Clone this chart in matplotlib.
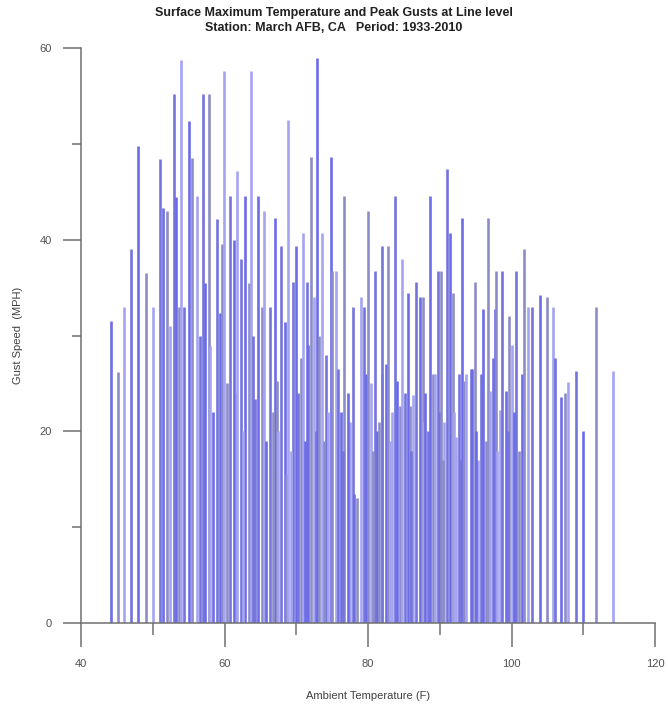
import matplotlib
matplotlib.use("Agg")
import matplotlib.pyplot as plt
from matplotlib.ticker import MultipleLocator

plt.rcParams['font.family'] = ['Liberation Sans', 'DejaVu Sans']

# Ambient temperature (F) of each gust observation
temps = [
    44.2, 45.1, 46.0, 47.0, 48.0, 49.0, 50.0, 51.0, 51.4, 52.0, 52.4, 53.0, 53.3, 53.6, 54.0, 54.3,
    55.0, 55.5, 56.1, 57.0, 57.3, 57.8, 58.0, 58.9, 59.4, 59.6, 59.9, 60.8, 61.3, 61.6, 61.8, 62.3,
    62.8, 63.4, 63.7, 64.2, 64.6, 65.2, 65.5,
    66.3, 67.0, 67.3, 67.5, 67.9, 68.4, 68.6, 68.9, 69.5, 69.9, 70.6, 70.9, 71.5, 71.7, 72.0, 72.5,
    72.7, 72.9, 73.2, 73.6, 74.1, 74.8, 75.0, 75.5, 75.8, 76.2, 76.7, 77.5, 77.9, 78.1,
    78.5, 79.0, 79.5, 79.7, 80.0, 80.4, 81.0, 81.2, 81.6, 81.9, 82.0, 82.5, 82.8, 83.3, 83.8, 84.0,
    84.5, 84.7, 85.2, 85.6, 85.9, 86.3, 86.7, 87.2, 87.6, 87.8, 88.3, 88.7, 89.0, 89.4, 89.7, 90.0,
    90.2, 90.6, 91.0, 91.4, 91.8, 92.3, 92.7, 93.1, 93.4, 93.7, 94.3, 94.5, 94.9, 95.3, 95.7, 96.0,
    96.7, 97.0, 97.4, 97.7, 97.9, 98.4, 98.7, 99.2, 99.7, 100.0, 100.6, 101.5, 101.7,
    102.3, 102.9, 104.0, 105.0, 105.8, 106.0, 106.9, 107.5, 107.9, 109.0, 109.9, 111.8, 114.1,
    56.6, 58.4, 60.3, 62.6, 64.0, 65.8, 66.7, 69.2, 70.3, 71.2, 73.9, 74.4, 76.5, 77.2,
    80.7, 83.0, 86.0, 88.0, 90.4, 92.0, 93.0, 95.0, 96.4, 98.0, 99.5, 100.3, 101.0,
]

# Peak gust speed (MPH) of each observation
gusts = [
    31.5, 26.2, 33.0, 39.0, 49.8, 36.5, 33.0, 48.4, 43.3, 43.0, 31.0, 55.2, 44.5, 33.0, 58.8, 33.0,
    52.4, 48.5, 44.6, 55.2, 35.5, 55.2, 28.9, 42.2, 32.4, 39.5, 57.6, 44.6, 40.0, 24.0, 47.2, 38.0,
    44.6, 35.5, 57.6, 23.4, 44.6, 33.0, 43.0,
    33.0, 42.3, 25.3, 20.0, 39.3, 31.4, 15.5, 52.5, 35.6, 39.3, 27.7, 40.7, 35.6, 29.0, 48.6, 34.0,
    20.0, 59.0, 30.0, 40.7, 28.0, 48.6, 36.7, 36.7, 26.5, 22.0, 44.6, 21.0, 33.0, 13.5,
    13.0, 34.0, 33.0, 26.0, 43.0, 25.0, 36.7, 20.0, 21.0, 26.0, 39.3, 27.0, 39.3, 22.0, 44.6, 25.3,
    22.6, 38.0, 24.0, 34.4, 22.6, 23.8, 35.6, 34.0, 34.0, 21.0, 20.0, 44.6, 26.0, 26.0, 36.7, 22.0,
    36.7, 21.0, 47.4, 40.7, 34.4, 19.4, 26.0, 42.3, 25.3, 26.0, 26.5, 26.5, 35.6, 17.0, 26.0, 32.8,
    42.3, 24.2, 27.7, 32.8, 36.7, 22.2, 36.7, 24.2, 32.0, 29.0, 36.7, 26.0, 39.0,
    33.0, 33.0, 34.2, 34.0, 33.0, 27.7, 23.6, 24.0, 25.1, 26.3, 20.0, 33.0, 26.3,
    30.0, 22.0, 25.0, 20.0, 30.0, 19.0, 22.0, 18.0, 24.0, 19.0, 19.0, 22.0, 18.0, 24.0,
    18.0, 19.0, 18.0, 24.0, 17.0, 22.0, 17.0, 20.0, 19.0, 18.0, 20.0, 22.0, 18.0,
]

x_ticks = [40, 60, 80, 100, 120]
y_ticks = [0, 20, 40, 60]

palette = ['#6c6ce8', '#8c8cc8', '#a4a4f2', '#7474dc']

fig = plt.figure(figsize=(6.68, 7.04), dpi=100)
ax = fig.add_axes([81 / 668, 1 - 623 / 704, (655 - 81) / 668, (623 - 48) / 704])

colors = [palette[i % len(palette)] for i in range(len(temps))]
ax.vlines(temps, 0, gusts, colors=colors, linewidth=1.9)

ax.set_xlim(40, 120)
ax.set_ylim(0, 60)
ax.set_xticks(x_ticks)
ax.set_yticks(y_ticks)
ax.xaxis.set_minor_locator(MultipleLocator(10))
ax.yaxis.set_minor_locator(MultipleLocator(10))

for s in ['top', 'right']:
    ax.spines[s].set_visible(False)
for s in ['left', 'bottom']:
    ax.spines[s].set_color('#707070')
    ax.spines[s].set_linewidth(1.1)

ax.tick_params(axis='x', which='major', direction='out', length=17, width=1.1,
               color='#707070', labelsize=8, labelcolor='#505050', pad=9)
ax.tick_params(axis='x', which='minor', direction='out', length=8.5, width=1.1, color='#707070')
ax.tick_params(axis='y', which='major', direction='out', length=13, width=1.1,
               color='#707070', labelsize=8, labelcolor='#505050', pad=8)
ax.tick_params(axis='y', which='minor', direction='out', length=6.5, width=1.1, color='#707070')

ax.set_xlabel('Ambient Temperature (F)', fontsize=8, color='#404040', labelpad=16)
ax.set_ylabel('Gust Speed  (MPH)', fontsize=8, color='#404040', labelpad=12)

fig.text(0.5, 1 - 13 / 704, 'Surface Maximum Temperature and Peak Gusts at Line level',
         ha='center', va='center', fontsize=9, fontweight='bold', color='#202020')
fig.text(0.5, 1 - 28 / 704, 'Station: March AFB, CA   Period: 1933-2010',
         ha='center', va='center', fontsize=9, fontweight='bold', color='#202020')

fig.savefig('out.png', dpi=100)
